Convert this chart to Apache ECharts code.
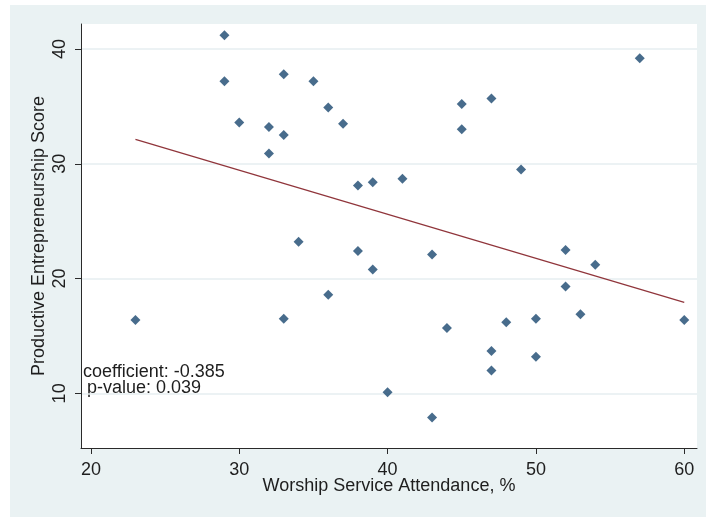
<!DOCTYPE html>
<html>
<head>
<meta charset="utf-8">
<script src="https://cdn.jsdelivr.net/npm/echarts@6/dist/echarts.min.js"></script>
<style>
  html, body { margin: 0; padding: 0; background: #ffffff; width: 706px; height: 517px; overflow: hidden; }
  #chart { position: absolute; left: 10px; top: 5px; width: 696px; height: 512px; }
</style>
</head>
<body>
<div id="chart"></div>
<script>
// Worship service attendance (%) per observation
const attendance = [23, 29, 29, 30, 32, 32, 33, 33, 33, 34, 35, 36, 36, 37, 38, 38, 39, 39, 40, 41,
                    43, 43, 44, 45, 45, 47, 47, 47, 48, 49, 50, 50, 52, 52, 53, 54, 57, 60];
// Productive entrepreneurship score per observation
const score = [16.4, 41.2, 37.2, 33.6, 33.2, 30.9, 37.8, 32.5, 16.5, 23.2, 37.2, 34.9, 18.6, 33.5, 28.1, 22.4, 28.4, 20.8, 10.1, 28.7,
               22.1, 7.9, 15.7, 35.2, 33.0, 35.7, 13.7, 12.0, 16.2, 29.5, 16.5, 13.2, 22.5, 19.3, 16.9, 21.2, 39.2, 16.4];
// Fitted regression line endpoints
const fitX = [23, 60];
const fitY = [32.13, 17.93];
// Tick labels
const xTicks = [20, 30, 40, 50, 60];
const yTicks = [10, 20, 30, 40];
const annotations = ['coefficient: -0.385', 'p-value: 0.039'];

const chart = echarts.init(document.getElementById('chart'), null, { renderer: 'canvas' });
const FONT = '"Liberation Sans", Arial, sans-serif';
const TXT = '#1e1e1e';
const AX = '#2a2a2a';

const scatterData = attendance.map((a, i) => [a, score[i]]);
const fitData = fitX.map((x, i) => [x, fitY[i]]);

chart.setOption({
  animation: false,
  backgroundColor: '#eaf2f3',
  textStyle: { fontFamily: FONT },
  grid: {
    left: 71, top: 19, right: 9, bottom: 69,
    show: true, backgroundColor: '#ffffff', borderWidth: 0
  },
  xAxis: {
    type: 'value',
    min: 19.33, max: 60.86,
    name: 'Worship Service Attendance, %',
    nameLocation: 'middle',
    nameGap: 29,
    nameMoveOverlap: false,
    nameTextStyle: { fontSize: 18, color: TXT, fontFamily: FONT },
    axisLine: { show: true, onZero: false, lineStyle: { color: AX, width: 1 } },
    axisTick: { show: true, length: 6, lineStyle: { color: AX }, customValues: xTicks },
    axisLabel: { fontSize: 18, color: TXT, margin: 13, fontFamily: FONT, customValues: xTicks },
    splitLine: { show: false }
  },
  yAxis: {
    type: 'value',
    min: 5.24, max: 42.18,
    name: 'Productive Entrepreneurship Score',
    nameLocation: 'middle',
    nameRotate: 90,
    nameGap: 33,
    nameMoveOverlap: false,
    nameTextStyle: { fontSize: 18, color: TXT, fontFamily: FONT },
    axisLine: { show: true, onZero: false, lineStyle: { color: AX, width: 1 } },
    axisTick: { show: true, length: 6, lineStyle: { color: AX }, customValues: yTicks },
    axisLabel: { fontSize: 18, color: TXT, margin: 12, rotate: 90, fontFamily: FONT, customValues: yTicks },
    splitLine: { show: true, lineStyle: { color: '#e6eef0', width: 1.5 } }
  },
  graphic: [
    { type: 'text', left: 73, top: 358, style: { text: annotations[0], fontSize: 18, fill: TXT, fontFamily: FONT } },
    { type: 'text', left: 77, top: 374, style: { text: annotations[1], fontSize: 18, fill: TXT, fontFamily: FONT } }
  ],
  series: [
    {
      type: 'line',
      data: fitData,
      symbol: 'none',
      lineStyle: { color: '#90353b', width: 1.2 },
      z: 2
    },
    {
      type: 'scatter',
      data: scatterData,
      symbol: 'diamond',
      symbolSize: [10, 10],
      itemStyle: { color: '#1a476f' },
      z: 3
    }
  ]
});
</script>
</body>
</html>
